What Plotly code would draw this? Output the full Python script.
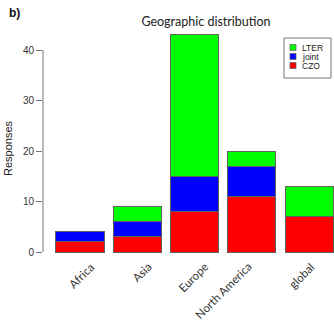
import plotly.graph_objects as go

# Survey responses by region, stacked by network affiliation
regions = ["Africa", "Asia", "Europe", "North America", "global"]
czo = [2, 3, 8, 11, 7]
joint = [2, 3, 7, 6, 0]
lter = [0, 3, 28, 3, 6]

series_names = ["LTER", "joint", "CZO"]
series_colors = {"CZO": "#ff0000", "joint": "#0000ff", "LTER": "#00ff00"}

y_ticks = [0, 10, 20, 30, 40]

W, H = 334, 322
L, R, T, B = 43, 0, 30, 62
plot_w = W - L - R
plot_h = H - T - B


def px_x(p):
    return (p - L) / plot_w


def px_y(p):
    return (H - B - p) / plot_h


fig = go.Figure()
for name, vals in [("CZO", czo), ("joint", joint), ("LTER", lter)]:
    fig.add_trace(go.Bar(
        x=regions, y=vals, name=name,
        marker=dict(color=series_colors[name], line=dict(color="#606060", width=1)),
        showlegend=False,
    ))

# Rotated category labels below the bars (pixel nudges for each label)
label_dx = [1, 4, -2, -29, -8]
label_cy = [275, 272, 277, 290, 275]
annotations = []
for reg, dx, cy in zip(regions, label_dx, label_cy):
    annotations.append(dict(
        x=reg, xref="x", y=px_y(cy), yref="paper", text=reg, showarrow=False,
        textangle=-45, xanchor="center", yanchor="middle", xshift=dx,
        font=dict(family="Lato", size=11.5, color="#333333"),
    ))

annotations.append(dict(
    x=px_x(8), xref="paper", y=px_y(148), yref="paper", text="Responses",
    showarrow=False, textangle=-90, xanchor="center", yanchor="middle",
    font=dict(family="Liberation Sans", size=11, color="#222222"),
))
annotations.append(dict(
    x=px_x(7), xref="paper", y=px_y(13), yref="paper", text="<b>b)</b>",
    showarrow=False, xanchor="left", yanchor="middle",
    font=dict(family="Liberation Sans", size=12, color="#111111"),
))

shapes = [
    # y axis line spanning the tick range only
    dict(type="line", xref="paper", yref="y", x0=0, x1=0, y0=0, y1=40,
         line=dict(color="#777777", width=1)),
    # legend frame
    dict(type="rect", xref="paper", yref="paper",
         x0=px_x(284), x1=px_x(331), y0=px_y(78), y1=px_y(38),
         line=dict(color="#777777", width=1), fillcolor="white"),
]

legend_rows = [47.5, 56.5, 65.5]
for name, cy in zip(series_names, legend_rows):
    shapes.append(dict(
        type="rect", xref="paper", yref="paper",
        x0=px_x(290), x1=px_x(296), y0=px_y(cy + 3), y1=px_y(cy - 3),
        fillcolor=series_colors[name], line=dict(color="#666666", width=0.8),
    ))
    annotations.append(dict(
        x=px_x(300), xref="paper", y=px_y(cy), yref="paper", text=name,
        showarrow=False, xanchor="left", yanchor="middle",
        font=dict(family="Liberation Sans", size=8.5, color="#222222"),
    ))

fig.update_layout(
    width=W, height=H,
    margin=dict(l=L, r=R, t=T, b=B, pad=0),
    paper_bgcolor="white", plot_bgcolor="white",
    barmode="stack", bargap=0.162,
    title=dict(text="Geographic distribution", x=206 / W, y=1 - 22 / H,
               xanchor="center", yanchor="middle", xref="container", yref="container",
               font=dict(family="Lato", size=12.5, color="#222222")),
    xaxis=dict(range=[(L - 80) / 57.3, (W - 80) / 57.3],
               showticklabels=False, ticks="", showgrid=False, zeroline=False,
               showline=False, fixedrange=True),
    yaxis=dict(range=[(H - B - 252) / -5.05, (252 - T) / 5.05],
               tickvals=y_ticks, ticks="outside", ticklen=6, tickcolor="#777777",
               tickwidth=1, showgrid=False, zeroline=False, showline=False,
               tickfont=dict(family="Liberation Sans", size=10, color="#333333")),
    annotations=annotations, shapes=shapes,
)

fig.write_html("out.html")
